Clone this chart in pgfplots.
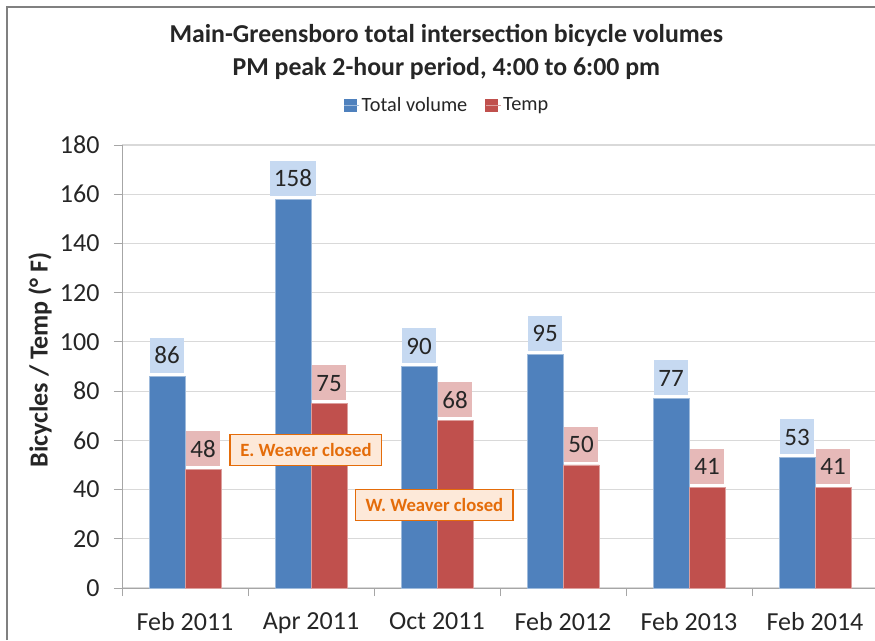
\documentclass[border=0pt]{standalone}
\usepackage{pgfplots}
\pgfplotsset{compat=1.18}
\usepackage{fontspec}
\setmainfont{Carlito}
\definecolor{xlblue}{HTML}{4F81BD}
\definecolor{xlred}{HTML}{C0504D}
\definecolor{lblblue}{HTML}{C6D9F1}
\definecolor{lblred}{HTML}{E6B9B8}
\definecolor{xlorange}{HTML}{E46C0A}
\definecolor{xlorangefill}{HTML}{FDE9D9}
\definecolor{gridgray}{HTML}{D9D9D9}
\definecolor{axgray}{HTML}{A6A6A6}
\begin{document}
\begin{tikzpicture}[x=1pt,y=1pt]
\useasboundingbox (0,0) rectangle (875,640);
\fill[white] (0,0) rectangle (875,640);
\draw[gray, line width=2pt] (7,0) -- (7,633) -- (875,633);
\begin{axis}[
  at={(122pt,52pt)}, anchor=south west,
  scale only axis, width=756pt, height=443pt,
  ymin=0, ymax=180, ytick={0,20,...,180},
  xmin=-0.5, xmax=5.5,
  xtick={0,1,2,3,4,5},
  xticklabels={Feb 2011,Apr 2011,Oct 2011,Feb 2012,Feb 2013,Feb 2014},
  minor xtick={-0.5,0.5,1.5,2.5,3.5,4.5,5.5},
  major x tick style={draw=none},
  minor x tick style={draw=axgray, line width=0.8pt},
  y tick style={draw=axgray, line width=0.8pt},
  tick align=outside, major tick length=8pt, minor tick length=8pt,
  axis x line*=bottom, axis y line*=left,
  axis line style={draw=axgray, line width=0.8pt},
  ymajorgrids, grid style={draw=gridgray, line width=1.2pt},
  /pgf/number format/assume math mode=true,
  tick label style={font=\fontsize{26}{29}\selectfont, text=black!85},
  xticklabel style={yshift=-13pt},
  yticklabel style={xshift=-11pt},
  ylabel={Bicycles / Temp (° F)},
  every axis y label/.style={at={(axis description cs:-0.1085,0.515)}, rotate=90, anchor=center, font=\fontsize{26}{30}\selectfont\bfseries, text=black!85},
  title={Main-Greensboro total intersection bicycle volumes\\PM peak 2-hour period, 4:00 to 6:00 pm},
  title style={at={(axis description cs:0.429,1.196)}, anchor=center, align=center, font=\fontsize{25.8}{33}\selectfont\bfseries, text=black!85},
  legend columns=2,
  legend style={at={(axis description cs:0.43,1.09)}, anchor=center, draw=none, fill=none,
    font=\fontsize{20.3}{23}\selectfont, text=black!85,
    /tikz/every even column/.append style={column sep=16pt}},
  ybar, bar width=36pt,
  nodes near coords,
  every node near coord/.append style={anchor=south, yshift=3pt, font=\fontsize{25}{28}\selectfont, text=black!85,
    inner xsep=4pt, inner ysep=9pt, text height=17pt, text depth=0pt},
  clip=false,
]
\addplot[fill=xlblue, draw=xlblue!55!white, line width=0.8pt, bar shift=-18pt,
  every node near coord/.append style={fill=lblblue},
  legend image code/.code={\fill[xlblue] (0pt,-6pt) rectangle (12pt,6pt); \path (0pt,0pt) -- (15pt,0pt);}]
  coordinates {(0,86) (1,158) (2,90) (3,95) (4,77) (5,53)};
\addlegendentry{Total volume}
\addplot[fill=xlred, draw=xlred!55!white, line width=0.8pt, bar shift=18pt,
  every node near coord/.append style={fill=lblred},
  legend image code/.code={\fill[xlred] (0pt,-6pt) rectangle (12pt,6pt); \path (0pt,0pt) -- (15pt,0pt);}]
  coordinates {(0,48) (1,75) (2,68) (3,50) (4,41) (5,41)};
\addlegendentry{Temp}
\node[draw=xlorange, line width=1.6pt, fill=xlorangefill, text=xlorange,
  font=\fontsize{18.7}{20}\selectfont\bfseries, inner xsep=10pt, minimum height=31pt]
  at (axis cs:0.96,56.1) {E. Weaver closed};
\node[draw=xlorange, line width=1.6pt, fill=xlorangefill, text=xlorange,
  font=\fontsize{18.7}{20}\selectfont\bfseries, inner xsep=10pt, minimum height=31pt]
  at (axis cs:1.98,33.7) {W. Weaver closed};
\end{axis}
\end{tikzpicture}
\end{document}
